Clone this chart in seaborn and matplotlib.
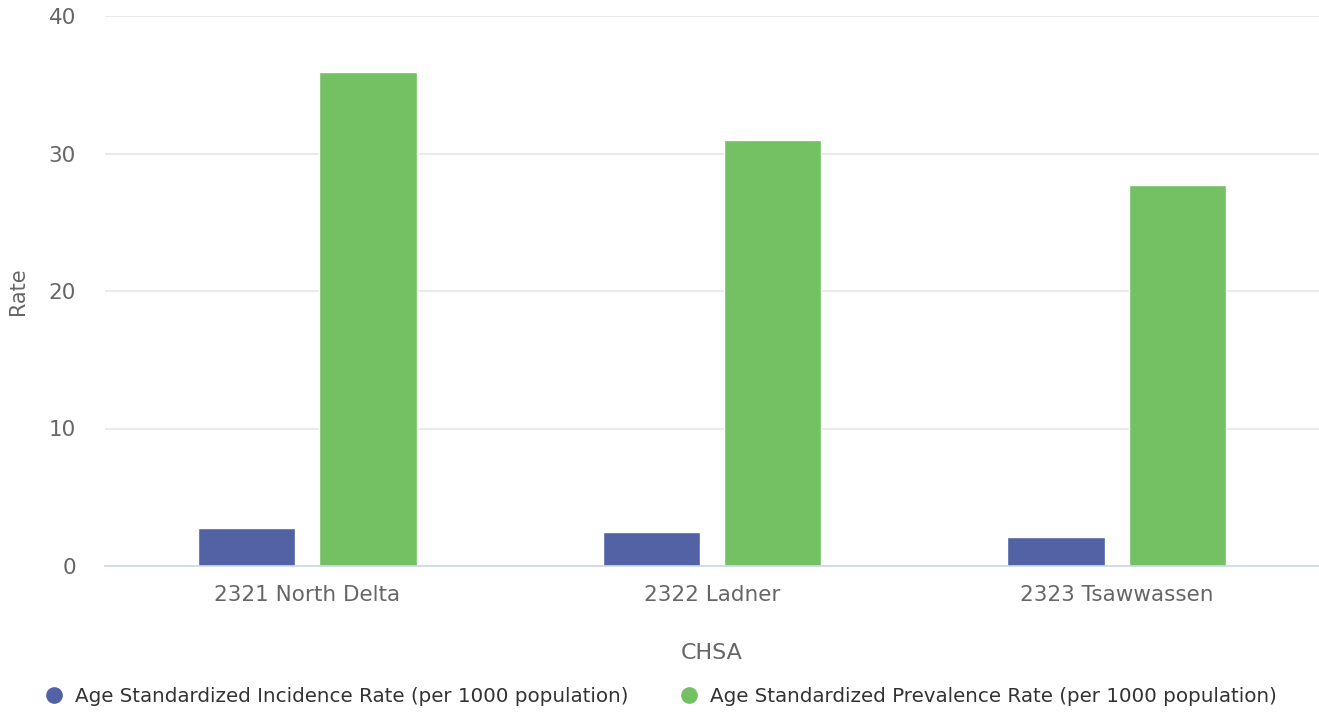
import matplotlib
matplotlib.use("Agg")
import matplotlib.pyplot as plt
import seaborn as sns
import pandas as pd
from matplotlib.lines import Line2D

categories = ["2321 North Delta", "2322 Ladner", "2323 Tsawwassen"]
series_names = ["Age Standardized Incidence Rate (per 1000 population)",
                "Age Standardized Prevalence Rate (per 1000 population)"]
incidence = [2.8, 2.5, 2.1]
prevalence = [35.9, 31.0, 27.7]
y_ticks = [0, 10, 20, 30, 40]
colors = ["#5262a5", "#73c163"]

df = pd.DataFrame({
    "CHSA": categories * 2,
    "Rate": incidence + prevalence,
    "Series": [series_names[0]] * 3 + [series_names[1]] * 3,
})

sns.set_theme(style="white")
plt.rcParams["font.family"] = "sans-serif"
plt.rcParams["font.sans-serif"] = ["DejaVu Sans"]

fig = plt.figure(figsize=(13.19, 7.13), dpi=100)
ax = fig.add_axes([105 / 1319, 1 - 566 / 713, 1 - 105 / 1319, (566 - 16) / 713])

sns.barplot(data=df, x="CHSA", y="Rate", hue="Series", palette=colors,
            width=0.6, gap=0.2, ax=ax, legend=False,
            edgecolor="white", linewidth=1, saturation=1)

ax.set_ylim(0, 40)
ax.set_xlim(-0.5, 2.5)
ax.set_yticks(y_ticks)
ax.set_yticklabels([str(t) for t in y_ticks])
ax.yaxis.grid(True, color="#e6e6e6", linewidth=1.2)
ax.set_axisbelow(True)
for s in ["top", "right", "left"]:
    ax.spines[s].set_visible(False)
ax.spines["bottom"].set_color("#ccd6eb")
ax.spines["bottom"].set_linewidth(1.2)
ax.spines["bottom"].set_zorder(5)

ax.tick_params(axis="y", length=0, pad=21, labelsize=15.5, labelcolor="#666666")
ax.tick_params(axis="x", length=0, pad=14, labelsize=15.5, labelcolor="#666666")
ax.set_ylabel("Rate", fontsize=15, color="#666666", labelpad=15)
ax.set_xlabel("CHSA", fontsize=16, color="#666666", labelpad=27)

handles = [Line2D([0], [0], marker="o", linestyle="", markersize=11,
                  markerfacecolor=c, markeredgecolor=c) for c in colors]
fig.legend(handles, series_names, loc="center", bbox_to_anchor=(0.5, 1 - 696 / 713),
           ncol=2, frameon=False, labelcolor="#333333",
           prop={"size": 14.3},
           handletextpad=0.5, columnspacing=2.4, handlelength=1.2)

fig.savefig("out.png", dpi=100)
